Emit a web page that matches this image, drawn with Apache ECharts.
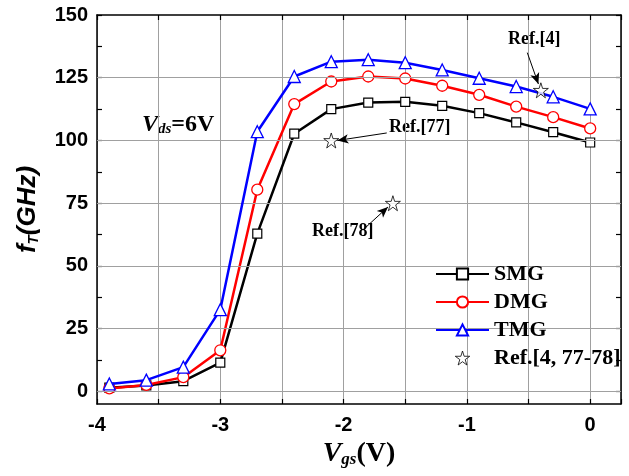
<!DOCTYPE html>
<html><head><meta charset="utf-8">
<script src="https://cdn.jsdelivr.net/npm/echarts@6/dist/echarts.min.js"></script>
<style>html,body{margin:0;padding:0;background:#fff}#c{width:629px;height:476px}</style>
</head><body><div id="c"></div>
<script>
const vgs = [-3.9,-3.6,-3.3,-3.0,-2.7,-2.4,-2.1,-1.8,-1.5,-1.2,-0.9,-0.6,-0.3,0];
const smg = [1.5,2.4,4.1,11.5,62.9,102.7,112.5,115.1,115.4,113.8,110.9,107.2,103.3,99.2];
const dmg = [1.2,2.6,5.7,16.4,80.4,114.5,123.5,125.5,124.7,121.8,118.2,113.5,109.3,104.8];
const tmg = [3.0,4.5,9.7,32.6,103.5,125.5,131.4,132.2,131.0,128.1,124.8,121.5,117.4,112.6];
const refX = [-0.4,-2.1,-1.6];
const refY = [120,100,75];
const refNames = ['Ref.[4]','Ref.[77]','Ref.[78]'];
// arrow tails / heads (data units) for the reference annotations
const arrowFrom = [[-0.51,135],[-1.65,103],[-1.84,64.5]];
const arrowTo = [[-0.42,122.5],[-2.05,100],[-1.64,73.5]];
const yTicks = [0,25,50,75,100,125,150];
const yMinorTicks = [12.5,37.5,62.5,87.5,112.5,137.5];
const xTicks = [-4,-3,-2,-1,0];

const STAR = 'path://M50,2 L61,37 L98,37 L68,59 L79,95 L50,73 L21,95 L32,59 L2,37 L39,37 Z';
const SERIF = 'Liberation Serif';
const SANS = 'Liberation Sans';
const GRIDC = '#a0a0a0';

const chart = echarts.init(document.getElementById('c'), null, {renderer:'canvas'});
const pairs = arr => arr.map((v,i)=>[vgs[i], v]);

const axisCommonX = {
  type:'value', min:-4, max:0.25, interval:1,
  axisLine:{show:true,onZero:false,lineStyle:{color:'#000',width:1.5}},
  axisTick:{show:true,inside:true,length:5,lineStyle:{color:'#000',width:1.2}},
  minorTick:{show:true,splitNumber:2,length:5,lineStyle:{color:'#000',width:1.2}}
};

const option = {
  animation:false,
  grid:{left:97,right:8,top:15,bottom:72,containLabel:false,outerBoundsMode:'none'},
  xAxis:[
    Object.assign({}, axisCommonX, {
      position:'bottom',
      splitLine:{show:true,lineStyle:{color:GRIDC,width:1}},
      minorSplitLine:{show:true,lineStyle:{color:GRIDC,width:1}},
      axisLabel:{show:true,margin:11,fontFamily:SANS,fontWeight:'bold',fontSize:20,color:'#000',
        showMaxLabel:false, formatter:v=> xTicks.indexOf(v)>=0 ? String(v) : ''},
      name:'{v|V}{s|gs}{p|(V)}', nameLocation:'middle', nameGap:27,
      nameTextStyle:{rich:{
        v:{fontFamily:SERIF,fontStyle:'italic',fontWeight:'bold',fontSize:28,color:'#000',verticalAlign:'bottom'},
        s:{fontFamily:SERIF,fontStyle:'italic',fontWeight:'bold',fontSize:17,color:'#000',padding:[12,0,0,0],verticalAlign:'bottom'},
        p:{fontFamily:SERIF,fontWeight:'bold',fontSize:28,color:'#000',verticalAlign:'bottom'}
      }}
    }),
    Object.assign({}, axisCommonX, {
      position:'top', axisLabel:{show:false}, splitLine:{show:false}
    })
  ],
  yAxis:[
    {type:'value', min:-5, max:150, position:'left',
     axisLine:{show:true,onZero:false,lineStyle:{color:'#000',width:1.5}},
     axisTick:{show:true,inside:true,length:5,customValues:yTicks.concat(yMinorTicks),lineStyle:{color:'#000',width:1.2}},
     axisLabel:{show:true,customValues:yTicks,margin:9,fontFamily:SANS,fontWeight:'bold',fontSize:20,color:'#000'},
     splitLine:{show:false},
     name:'{f|f}{s|T}{g|(GHz)}', nameLocation:'middle', nameRotate:90, nameGap:56,
     nameTextStyle:{rich:{
       f:{fontFamily:SANS,fontStyle:'italic',fontWeight:'bold',fontSize:26,color:'#000',verticalAlign:'bottom'},
       s:{fontFamily:SANS,fontStyle:'italic',fontWeight:'bold',fontSize:15,color:'#000',padding:[12,0,0,0],verticalAlign:'bottom'},
       g:{fontFamily:SANS,fontStyle:'italic',fontWeight:'bold',fontSize:26,color:'#000',verticalAlign:'bottom'}
     }}
    },
    {type:'value', min:-5, max:150, position:'right',
     axisLine:{show:true,onZero:false,lineStyle:{color:'#000',width:1.5}},
     axisTick:{show:true,inside:true,length:5,customValues:yTicks.concat(yMinorTicks),lineStyle:{color:'#000',width:1.2}},
     axisLabel:{show:false}, splitLine:{show:false}
    }
  ],
  legend:{
    orient:'vertical', left:430, top:258, itemWidth:53, itemHeight:14, itemGap:6, z:20,
    textStyle:{fontFamily:SERIF,fontWeight:'bold',fontSize:22,color:'#000',lineHeight:22},
    data:['SMG','DMG','TMG',
      {name:'Ref.[4, 77-78]', itemStyle:{color:'#fff',borderColor:'#000',borderWidth:1}}]
  },
  series:[
    {type:'line', name:'gridlines', data:[[-4,-5]], symbol:'none', z:2,
     markLine:{symbol:['none','none'],label:{show:false},
       lineStyle:{color:GRIDC,width:1.2,type:'solid'},
       data:yTicks.slice(0,-1).map(v=>({yAxis:v}))}},
    {type:'line', name:'SMG', data:pairs(smg), symbol:'rect', symbolSize:9, z:3,
     lineStyle:{color:'#000',width:2.5}, itemStyle:{color:'#fff',borderColor:'#000',borderWidth:1.2}, color:'#000'},
    {type:'line', name:'DMG', data:pairs(dmg), symbol:'circle', symbolSize:11, z:4,
     lineStyle:{color:'#ff0000',width:2.5}, itemStyle:{color:'#fff',borderColor:'#ff0000',borderWidth:1.3}, color:'#ff0000'},
    {type:'line', name:'TMG', data:pairs(tmg), symbol:'triangle', symbolSize:12, z:5,
     lineStyle:{color:'#0000ff',width:2.5}, itemStyle:{color:'#fff',borderColor:'#0000ff',borderWidth:1.3}, color:'#0000ff'},
    {type:'scatter', name:'Ref.[4, 77-78]', data:refX.map((x,i)=>[x,refY[i]]), symbol:STAR, symbolSize:15, z:6,
     itemStyle:{color:'#fff',borderColor:'#000',borderWidth:1},
     markLine:{silent:true,symbol:['none','arrow'],symbolSize:[7,11],label:{show:false},
       lineStyle:{color:'#000',width:1,type:'solid'},
       data:arrowFrom.map((p,i)=>[{coord:p},{coord:arrowTo[i]}])}}
  ],
  graphic:[
    {type:'text', left:508, top:30, style:{text:refNames[0],font:'bold 18px "Liberation Serif"',fill:'#000'}},
    {type:'text', left:389, top:118, style:{text:refNames[1],font:'bold 18px "Liberation Serif"',fill:'#000'}},
    {type:'text', left:312, top:222, style:{text:refNames[2],font:'bold 18px "Liberation Serif"',fill:'#000'}},
    {type:'text', left:142, top:113, style:{
      text:'{v|V}{s|ds}{e|=6V}',
      rich:{
        v:{fontFamily:SERIF,fontStyle:'italic',fontWeight:'bold',fontSize:24,fill:'#000',verticalAlign:'bottom'},
        s:{fontFamily:SERIF,fontStyle:'italic',fontWeight:'bold',fontSize:15,fill:'#000',padding:[12,0,0,0],verticalAlign:'bottom'},
        e:{fontFamily:SERIF,fontWeight:'bold',fontSize:24,fill:'#000',verticalAlign:'bottom'}
      }}}
  ]
};
chart.setOption(option);
</script></body></html>
